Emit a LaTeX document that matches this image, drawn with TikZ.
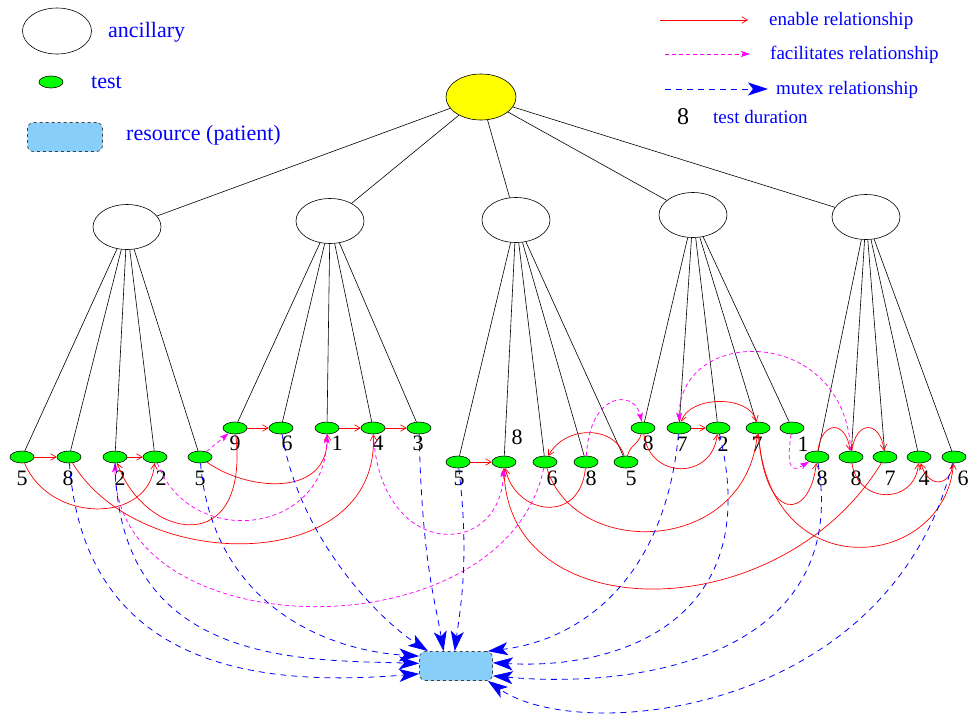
\documentclass[tikz,border=0pt]{standalone}
\usepackage{fontspec}
\setmainfont{Liberation Serif}
\usetikzlibrary{arrows.meta,shapes.geometric,calc}
\definecolor{resblue}{RGB}{135,206,250}
\definecolor{facmag}{RGB}{255,0,255}
\definecolor{mutblue}{RGB}{0,0,255}
\definecolor{enred}{RGB}{255,0,0}
\definecolor{tstgreen}{RGB}{0,255,0}
\definecolor{rootyellow}{RGB}{255,255,0}
\begin{document}
\begin{tikzpicture}[x=1pt,y=-1pt,
  anc/.style={ellipse,draw,line width=0.6pt,minimum width=68pt,minimum height=45pt,inner sep=0pt},
  rootnode/.style={anc,fill=rootyellow,minimum width=70pt,minimum height=46pt},
  tst/.style={ellipse,draw,line width=0.6pt,fill=tstgreen,minimum width=24pt,minimum height=12pt,inner sep=0pt},
  res/.style={rectangle,rounded corners=6pt,draw=black!75,dashed,line width=0.7pt,fill=resblue,minimum width=73pt,minimum height=29pt,inner sep=0pt},
  numlbl/.style={font=\fontsize{22}{24}\selectfont,inner sep=0pt},
  legtxt/.style={text=mutblue,anchor=west,inner sep=0pt},
  bigleg/.style={legtxt,font=\fontsize{22}{24}\selectfont},
  smallleg/.style={legtxt,font=\fontsize{19}{21}\selectfont},
  treeln/.style={draw=black,line width=0.6pt},
  redln/.style={draw=enred,line width=0.7pt},
  enab/.style={redln,-{Straight Barb[length=5.5pt,width=6.5pt]}},
  facil/.style={draw=facmag,line width=0.75pt,dash pattern=on 4pt off 3pt,-{Stealth[length=9pt,width=6pt,inset=2pt]}},
  mutx/.style={draw=mutblue,line width=0.8pt,dash pattern=on 6pt off 5pt,-{Stealth[length=20pt,width=13pt,inset=5pt]}}
]
\useasboundingbox (0,0) rectangle (975,715);

% ---------- legend ----------
\node[anc,minimum width=69pt,minimum height=46pt] (Lanc) at (57,31) {};
\node[bigleg] (Tanc) at (108,32) {ancillary};
\node[tst] (Ltest) at (51,82) {};
\node[bigleg] (Ttest) at (91,82) {test};
\node[res,minimum width=75pt] (Lres) at (65,137) {};
\node[bigleg] (Tres) at (126,135) {resource (patient)};

\coordinate (Le1) at (660,20); \coordinate (Le2) at (748,20);
\draw[enab] (Le1) -- (Le2);
\node[smallleg] (Ten) at (769,21) {enable relationship};
\coordinate (Lf1) at (665,54); \coordinate (Lf2) at (750,54);
\draw[facil] (Lf1) -- (Lf2);
\node[smallleg] (Tfac) at (770,55) {facilitates relationship};
\coordinate (Lm1) at (665,89); \coordinate (Lm2) at (768,89);
\draw[mutx] (Lm1) -- (Lm2);
\node[smallleg] (Tmut) at (776,90) {mutex relationship};
\node[numlbl,font=\fontsize{24}{26}\selectfont] (Tdur8) at (683,117) {8};
\node[smallleg] (Tdur) at (713,117) {test duration};

% ---------- tree nodes ----------
\node[rootnode] (R0) at (481,97) {};
\node[anc] (A1) at (127,227) {};
\node[anc] (A2) at (330,221) {};
\node[anc] (A3) at (516,220) {};
\node[anc] (A4) at (693,215) {};
\node[anc] (A5) at (866,217) {};

\node[tst] (a1) at (22,457) {};
\node[tst] (a2) at (69,457) {};
\node[tst] (a3) at (115,457) {};
\node[tst] (a4) at (155,457) {};
\node[tst] (a5) at (200,457) {};
\node[tst] (b1) at (235,428) {};
\node[tst] (b2) at (281,428) {};
\node[tst] (b3) at (327,428) {};
\node[tst] (b4) at (373,428) {};
\node[tst] (b5) at (419,428) {};
\node[tst] (c1) at (458,462) {};
\node[tst] (c2) at (504,462) {};
\node[tst] (c3) at (545,462) {};
\node[tst] (c4) at (586,462) {};
\node[tst] (c5) at (626,462) {};
\node[tst] (d1) at (643,428) {};
\node[tst] (d2) at (679,428) {};
\node[tst] (d3) at (718,428) {};
\node[tst] (d4) at (758,428) {};
\node[tst] (d5) at (792,428) {};
\node[tst] (e1) at (817,457) {};
\node[tst] (e2) at (851,457) {};
\node[tst] (e3) at (885,457) {};
\node[tst] (e4) at (919,457) {};
\node[tst] (e5) at (954,457) {};

\node[res] (RES) at (456,666) {};

% ---------- duration labels ----------
\node[numlbl] (la1) at (22,478) {5};
\node[numlbl] (la2) at (68,478) {8};
\node[numlbl] (la3) at (120,478) {2};
\node[numlbl] (la4) at (161,478) {2};
\node[numlbl] (la5) at (200,478) {5};
\node[numlbl] (lb1) at (235,443) {9};
\node[numlbl] (lb2) at (287,443) {6};
\node[numlbl] (lb3) at (337,443) {1};
\node[numlbl] (lb4) at (378,443) {4};
\node[numlbl] (lb5) at (418,443) {3};
\node[numlbl] (lc1) at (459,478) {5};
\node[numlbl] (lc2) at (517,437) {8};
\node[numlbl] (lc3) at (552,478) {6};
\node[numlbl] (lc4) at (591,478) {8};
\node[numlbl] (lc5) at (631,478) {5};
\node[numlbl] (ld1) at (648,443) {8};
\node[numlbl] (ld2) at (682,444) {7};
\node[numlbl] (ld3) at (723,444) {2};
\node[numlbl] (ld4) at (757,444) {7};
\node[numlbl] (ld5) at (803,444) {1};
\node[numlbl] (le1) at (822,478) {8};
\node[numlbl] (le2) at (856,478) {8};
\node[numlbl] (le3) at (890,478) {7};
\node[numlbl] (le4) at (924,478) {4};
\node[numlbl] (le5) at (963,478) {6};

% ---------- tree lines ----------
\foreach \n in {A1,A2,A3,A4,A5} \draw[treeln] (R0) -- (\n);
\foreach \n in {a1,a2,a3,a4,a5} \draw[treeln] (A1) -- (\n);
\foreach \n in {b1,b2,b3,b4,b5} \draw[treeln] (A2) -- (\n);
\foreach \n in {c1,c2,c3,c4,c5} \draw[treeln] (A3) -- (\n);
\foreach \n in {d1,d2,d3,d4,d5} \draw[treeln] (A4) -- (\n);
\foreach \n in {e1,e2,e3,e4,e5} \draw[treeln] (A5) -- (\n);

% ---------- enable relationships ----------
\draw[enab] (a1) -- (a2);
\draw[enab] (a3) -- (a4);
\draw[enab] (a1) .. controls (50,524) and (150,524) .. (a4);
\draw[enab] (a2) .. controls (140,575) and (380,575) .. (b4);
\draw[enab] (a5) .. controls (245,490) and (330,500) .. (b3);
\draw[enab] (b1) .. controls (250,560) and (145,540) .. (a3);
\draw[enab] (b1) -- (b2);
\draw[enab] (b3) -- (b4);
\draw[enab] (b4) -- (b5);
\draw[enab] (c1) -- (c2);
\draw[enab] (c4) .. controls (580,525) and (515,515) .. (c2);
\draw[enab] (c5) .. controls (615,425) and (565,425) .. (c3);
\draw[redln] (c5) .. controls (630,445) and (638,445) .. (d1);
\draw[enab] (c3) .. controls (575,560) and (745,555) .. (d4);
\draw[enab] (e3) .. controls (780,630) and (505,630) .. (c2);
\draw[enab] (d1) .. controls (650,480) and (712,480) .. (d3);
\draw[enab] (d2) -- (d3);
\draw[redln,{Straight Barb[length=5.5pt,width=6.5pt]}-{Straight Barb[length=5.5pt,width=6.5pt]}] (d2) .. controls (690,395) and (750,395) .. (d4);
\draw[enab] (d4) .. controls (765,525) and (810,520) .. (e1);
\draw[enab] (d4) .. controls (770,590) and (945,570) .. (e5);
\draw[enab] (e1) .. controls (822,420) and (846,420) .. (e2);
\draw[enab] (e2) .. controls (856,420) and (880,420) .. (e3);
\draw[enab] (e2) .. controls (858,505) and (915,505) .. (e4);
\draw[enab] (e5) .. controls (950,488) and (928,488) .. (e4);

% ---------- facilitates relationships ----------
\draw[facil] (a5) -- (b1);
\draw[facil] (a4) .. controls (190,550) and (325,535) .. (b3);
\draw[facil] (c3) .. controls (505,655) and (115,650) .. (a3);
\draw[facil] (b4) .. controls (380,560) and (500,560) .. (c2);
\draw[facil] (c4) .. controls (590,390) and (635,390) .. (d1);
\draw[facil] (e2) .. controls (845,325) and (680,325) .. (d2);
\draw[facil] (d5) .. controls (785,475) and (795,470) .. (e1);

% ---------- mutex relationships ----------
\draw[mutx] (a2) .. controls (85,680) and (280,685) .. (RES.192);
\draw[mutx] (a3) .. controls (118,665) and (300,660) .. (RES.176);
\draw[mutx] (a5) .. controls (212,600) and (320,650) .. (RES.165);
\draw[mutx] (b2) .. controls (300,540) and (380,620) .. (RES.152);
\draw[mutx] (b5) .. controls (422,560) and (435,600) .. (RES.130);
\draw[mutx] (c1) .. controls (470,560) and (460,610) .. (RES.95);
\draw[mutx] (d2) .. controls (665,580) and (580,640) .. (RES.25);
\draw[mutx] (d3) .. controls (765,620) and (620,670) .. (RES.5);
\draw[mutx] (e1) .. controls (850,650) and (650,690) .. (RES.345);
\draw[mutx] (e5) .. controls (890,715) and (580,745) .. (RES.335);
\end{tikzpicture}
\end{document}
